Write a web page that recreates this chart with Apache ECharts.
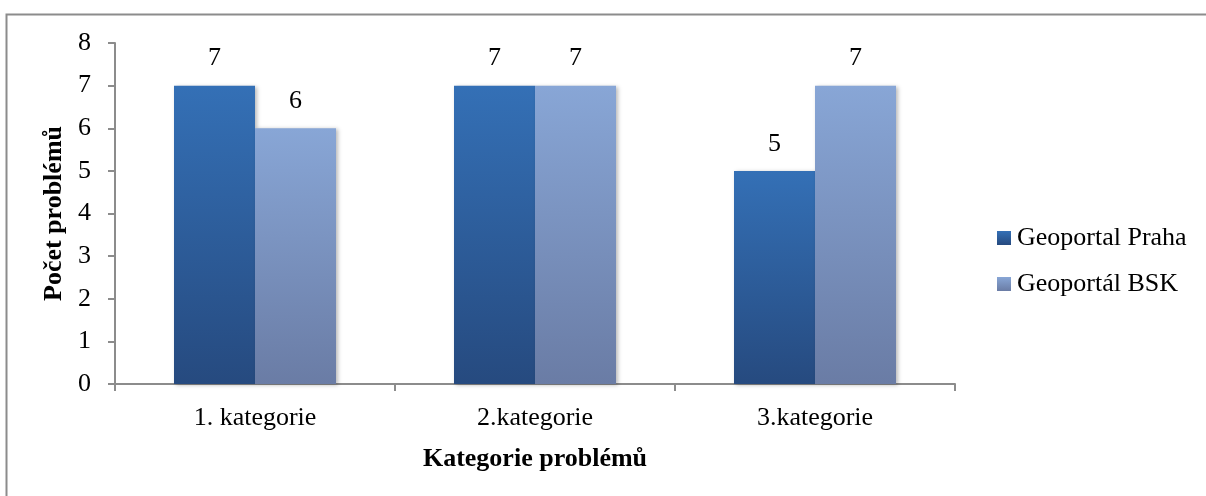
<!DOCTYPE html>
<html>
<head>
<meta charset="utf-8">
<script src="https://cdn.jsdelivr.net/npm/echarts@6/dist/echarts.min.js"></script>
<style>
  html, body { margin: 0; padding: 0; background: #fff; }
  #chart { width: 1206px; height: 496px; }
</style>
</head>
<body>
<div id="chart"></div>
<script>
// Problem counts per category for the two geoportals
const categories = ['1. kategorie', '2.kategorie', '3.kategorie'];
const praha = [7, 7, 5];
const bsk = [6, 7, 7];
const seriesNames = ['Geoportal Praha', 'Geoportál BSK'];

const serif = '"Liberation Serif", "Times New Roman", serif';
const fs = 26;

function grad(top, bottom) {
  return new echarts.graphic.LinearGradient(0, 0, 0, 1, [
    { offset: 0, color: top },
    { offset: 1, color: bottom }
  ]);
}

const barShadow = {
  shadowColor: 'rgba(0,0,0,0.28)',
  shadowBlur: 4,
  shadowOffsetX: 2,
  shadowOffsetY: 1
};

const labelStyle = {
  show: true,
  position: 'top',
  distance: 14,
  fontFamily: serif,
  fontSize: fs,
  color: '#000'
};

const chart = echarts.init(document.getElementById('chart'));
chart.setOption({
  animation: false,
  backgroundColor: '#fff',
  graphic: [{
    type: 'polyline',
    shape: { points: [[6.5, 500], [6.5, 14.5], [1210, 14.5]] },
    style: { stroke: '#8c8c8c', lineWidth: 2, fill: null },
    silent: true
  }],
  grid: { left: 115, right: 251, top: 43, bottom: 112 },
  legend: {
    orient: 'vertical',
    left: 992,
    top: 220,
    itemWidth: 14,
    itemHeight: 14,
    itemGap: 20,
    icon: 'rect',
    textStyle: { fontFamily: serif, fontSize: fs, color: '#000', padding: [0, 0, 0, 1] },
    data: seriesNames
  },
  xAxis: {
    type: 'category',
    data: categories,
    name: 'Kategorie problémů',
    nameLocation: 'middle',
    nameGap: 62,
    nameTextStyle: { fontFamily: serif, fontSize: fs, fontWeight: 'bold', color: '#000' },
    axisLine: { lineStyle: { color: '#8c8c8c', width: 2 } },
    axisTick: { show: true, length: 7, lineStyle: { color: '#8c8c8c', width: 2 } },
    axisLabel: { fontFamily: serif, fontSize: fs, color: '#000', margin: 21 }
  },
  yAxis: {
    type: 'value',
    min: 0,
    max: 8,
    interval: 1,
    name: 'Počet problémů',
    nameLocation: 'middle',
    nameGap: 37,
    nameTextStyle: { fontFamily: serif, fontSize: fs, fontWeight: 'bold', color: '#000' },
    axisLine: { show: true, lineStyle: { color: '#8c8c8c', width: 2 } },
    axisTick: { show: true, length: 7, lineStyle: { color: '#8c8c8c', width: 2 } },
    axisLabel: { fontFamily: serif, fontSize: fs, color: '#000', margin: 24 },
    splitLine: { show: false }
  },
  series: [
    {
      name: seriesNames[0],
      type: 'bar',
      data: praha,
      barWidth: 81,
      barGap: '0%',
      itemStyle: Object.assign({ color: grad('#3470b6', '#264a7f') }, barShadow),
      label: labelStyle
    },
    {
      name: seriesNames[1],
      type: 'bar',
      data: bsk,
      barWidth: 81,
      barGap: '0%',
      itemStyle: Object.assign({ color: grad('#88a6d6', '#6a7ca5') }, barShadow),
      label: labelStyle
    }
  ]
});
</script>
</body>
</html>
